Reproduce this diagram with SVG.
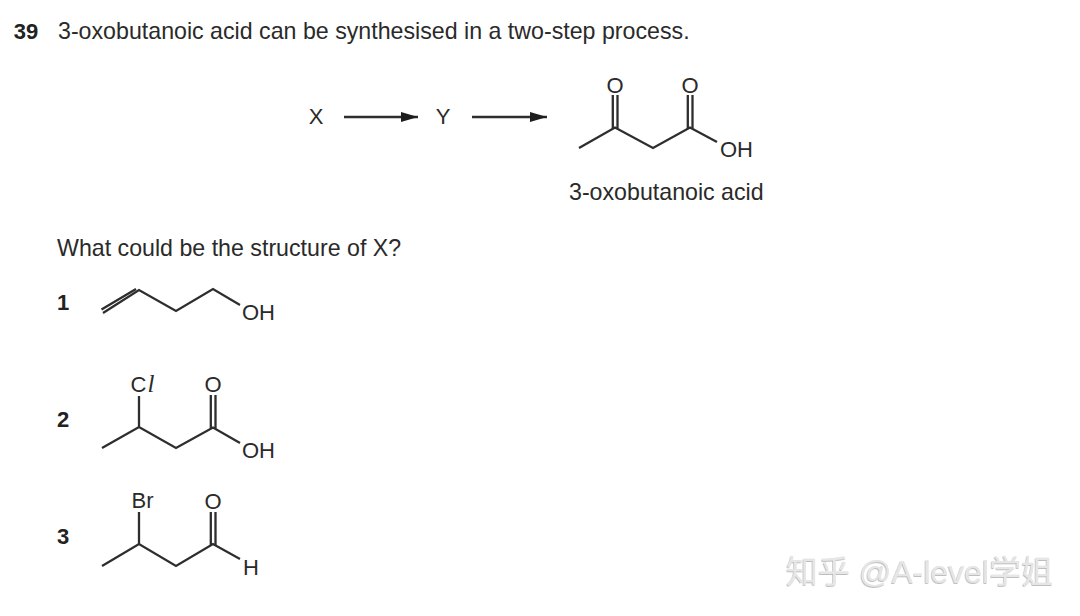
<svg xmlns="http://www.w3.org/2000/svg" width="1080" height="616" viewBox="0 0 1080 616">
<style>
text{font-family:"Liberation Sans",Arial,sans-serif;fill:#2a2a2a}
.t{font-size:23.200px}
.a{font-size:22px}
.n{font-size:22px;font-weight:bold;text-anchor:middle;fill:#222}
.m{text-anchor:middle}
.b{fill:none;stroke:#2e2e2e;stroke-width:2.300;stroke-linejoin:miter;stroke-linecap:butt}
.w{font-family:"Liberation Sans","Noto Sans CJK SC",sans-serif;font-size:32px;fill:#e6e6e6;filter:url(#sh)}
</style>
<defs>
<marker id="ah" markerUnits="userSpaceOnUse" markerWidth="18" markerHeight="12" refX="17" refY="5.500" orient="auto"><path d="M0 0.500L17 5.500L0 10.500z" fill="#1e1e1e"/></marker>
<filter id="sh" x="-5%" y="-20%" width="110%" height="140%"><feDropShadow dx="-0.6" dy="0.8" stdDeviation="0.5" flood-color="#8a8a8a" flood-opacity="0.7"/></filter>
</defs>
<rect width="1080" height="616" fill="#fff"/>
<g id="question">
<text class="n" x="26" y="39">39</text>
<text class="t" x="58" y="39">3-oxobutanoic acid can be synthesised in a two-step process.</text>
<text class="t" x="57" y="256">What could be the structure of X?</text>
</g>
<g id="connectors">
<path class="b" d="M344 117H418" marker-end="url(#ah)"/>
<path class="b" d="M472 117H547" marker-end="url(#ah)"/>
</g>
<g id="node-x"><text class="a m" x="316" y="124">X</text></g>
<g id="node-y"><text class="a m" x="443" y="124">Y</text></g>
<g id="product">
<path class="b" d="M579 148L615 127.500L653 148L690 127.500L717 142"/>
<path class="b" d="M612.800 128.500V95M617.500 128.500V95M687.800 128.500V95M692.500 128.500V95"/>
<text class="a m" x="615" y="92.500">O</text>
<text class="a m" x="690" y="92.500">O</text>
<text class="a" x="720" y="157">OH</text>
<text class="t" x="569" y="200">3-oxobutanoic acid</text>
</g>
<g id="option-1">
<text class="n" x="63" y="310">1</text>
<path class="b" d="M103 313L139 290L176 311L213 289L240 305M101.500 309.500L136 289"/>
<text class="a" x="242" y="319.500">OH</text>
</g>
<g id="option-2">
<text class="n" x="63" y="427">2</text>
<path class="b" d="M102 448L139 427L176 448L213 427.500L240 443M139 427V396"/>
<path class="b" d="M210.800 428.500V395M215.500 428.500V395"/>
<text class="a" x="130.500" y="392">C<tspan font-family="Liberation Serif" font-style="italic" font-size="25" dx="1">l</tspan></text>
<text class="a m" x="213" y="392">O</text>
<text class="a" x="242" y="457.500">OH</text>
</g>
<g id="option-3">
<text class="n" x="63" y="544">3</text>
<path class="b" d="M102 566L139 544L176 566L213 544L240 559M139 544V512"/>
<path class="b" d="M210.800 545V512M215.500 545V512"/>
<text class="a m" x="142.500" y="508">Br</text>
<text class="a m" x="213" y="509">O</text>
<text class="a" x="243" y="575">H</text>
</g>
<text class="w" x="786" y="583">知乎 @A-level学姐</text>
</svg>
